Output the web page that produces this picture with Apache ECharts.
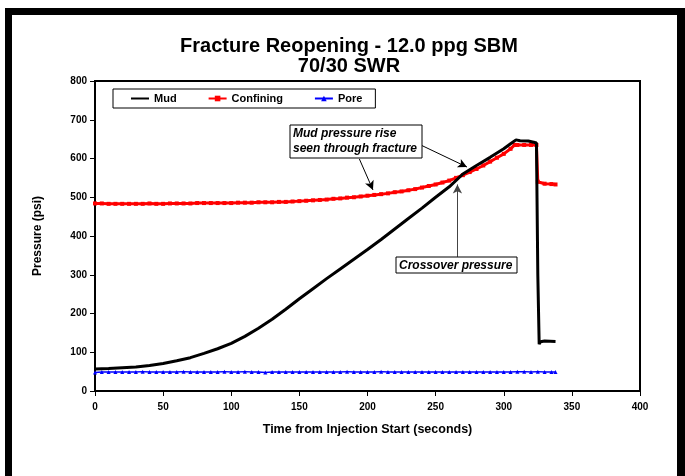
<!DOCTYPE html>
<html>
<head>
<meta charset="utf-8">
<script src="https://cdn.jsdelivr.net/npm/echarts@6/dist/echarts.min.js"></script>
<style>
html,body{margin:0;padding:0;background:#fff;}
#c{width:685px;height:476px;}
</style>
</head>
<body>
<div id="c"></div>
<script>
// ---- data ----
const mudTime = [0,10,20,30,40,50,60,70,80,90,100,110,120,130,140,150,160,170,180,190,200,210,220,230,240,250,260,270,280,290,300,305,309,312,318,322,324,325,326,327,330,338];
const mudPsi  = [57,58,60,62,66,71,78,86,97,109,123,141,162,185,211,238,264,290,315,340,365,391,418,445,472,500,527,560,582,603,625,638,648,646,645,642,640,300,121,127,129,128];

const confTime = [0,5,10,15,20,25,30,35,40,45,50,55,60,65,70,75,80,85,90,95,100,105,110,115,120,125,130,135,140,145,150,155,160,165,170,175,180,185,190,195,200,205,210,215,220,225,230,235,240,245,250,255,260,265,270,275,280,285,290,295,300,305,308,310,315,320,324,325,330,335,338];
const confPsi  = [484,484,483,483,483,483,483,483,484,483,483,484,484,484,484,485,485,485,485,485,485,486,486,486,487,487,487,488,488,489,490,491,492,493,494,496,497,499,500,502,504,506,508,510,513,515,518,521,525,529,533,538,543,550,557,565,573,582,592,602,612,625,635,635,635,635,635,540,535,534,533];

const poreTime = [0,5,10,15,20,25,30,35,40,45,50,55,60,65,70,75,80,85,90,95,100,105,110,115,120,125,130,135,140,145,150,155,160,165,170,175,180,185,190,195,200,205,210,215,220,225,230,235,240,245,250,255,260,265,270,275,280,285,290,295,300,305,310,315,320,325,330,335,338];
const porePsi  = [48,49,49,49,49,49,49,50,49,49,49,49,49,50,49,49,49,49,49,50,49,49,50,49,49,48,49,49,49,49,49,49,49,49,49,49,49,50,49,49,49,49,50,49,49,49,49,49,49,49,49,49,49,49,49,49,49,49,49,49,49,49,50,50,49,50,49,49,49];

const xTicks = [0,50,100,150,200,250,300,350,400];
const yTicks = [0,100,200,300,400,500,600,700,800];

const pair = (t, v) => t.map((x, i) => [x, v[i]]);
const font = "'Liberation Sans', Arial, sans-serif";

const chart = echarts.init(document.getElementById('c'));
chart.setOption({
  animation: false,
  backgroundColor: '#fff',
  title: {
    text: 'Fracture Reopening - 12.0 ppg SBM\n70/30 SWR',
    left: 349, top: 36, textAlign: 'center', padding: 0,
    textStyle: {fontFamily: font, fontWeight: 'bold', fontSize: 20, lineHeight: 20, color: '#000'}
  },
  legend: {
    left: 113, top: 89,
    padding: [4, 13, 4, 17],
    itemGap: 31, itemWidth: 18, itemHeight: 7,
    borderColor: '#000', borderWidth: 1,
    textStyle: {fontFamily: font, fontWeight: 'bold', fontSize: 11, color: '#000'},
    data: [{name: 'Mud', itemStyle: {opacity: 0}}, 'Confining', 'Pore']
  },
  grid: {left: 95, right: 45, top: 81, bottom: 85, show: true, borderColor: '#000', borderWidth: 2},
  xAxis: {
    type: 'value', min: 0, max: 400, interval: 50,
    name: 'Time from Injection Start (seconds)', nameLocation: 'middle', nameGap: 32,
    nameTextStyle: {fontFamily: font, fontWeight: 'bold', fontSize: 12.5, color: '#000'},
    axisLine: {lineStyle: {color: '#000', width: 2}},
    axisTick: {inside: false, length: 5, lineStyle: {color: '#000'}},
    axisLabel: {fontFamily: font, fontWeight: 'bold', fontSize: 10, color: '#000', margin: 11,
      formatter: v => xTicks.includes(v) ? String(v) : ''},
    splitLine: {show: false}
  },
  yAxis: {
    type: 'value', min: 0, max: 800, interval: 100,
    name: 'Pressure (psi)', nameLocation: 'middle', nameGap: 51, nameRotate: 90,
    nameTextStyle: {fontFamily: font, fontWeight: 'bold', fontSize: 12, color: '#000'},
    axisLine: {show: true, lineStyle: {color: '#000', width: 2}},
    axisTick: {show: true, inside: false, length: 5, lineStyle: {color: '#000'}},
    axisLabel: {fontFamily: font, fontWeight: 'bold', fontSize: 10, color: '#000', margin: 8,
      formatter: v => yTicks.includes(v) ? String(v) : ''},
    splitLine: {show: false}
  },
  series: [
    {
      name: 'Mud', type: 'line', data: pair(mudTime, mudPsi),
      showSymbol: false, symbol: 'none', z: 3,
      lineStyle: {color: '#000', width: 3}, itemStyle: {color: '#000'}
    },
    {
      name: 'Confining', type: 'line', data: pair(confTime, confPsi),
      symbol: 'rect', symbolSize: 4, showSymbol: true, z: 2,
      lineStyle: {color: '#ff0000', width: 3}, itemStyle: {color: '#ff0000'},
      markLine: {
        silent: true, symbol: ['none', 'arrow'], symbolSize: [7, 9],
        label: {show: false},
        lineStyle: {color: '#000', width: 1, type: 'solid'},
        data: [
          [{coord: [236, 640]}, {coord: [273, 578]}],
          [{coord: [194, 599]}, {coord: [204, 519]}],
          [{coord: [266, 346], lineStyle: {color: '#444'}}, {coord: [266, 533]}]
        ]
      }
    },
    {
      name: 'Pore', type: 'line', data: pair(poreTime, porePsi),
      symbol: 'triangle', symbolSize: 4, showSymbol: true, z: 1,
      lineStyle: {color: '#0000ff', width: 1.5}, itemStyle: {color: '#0000ff'}
    }
  ],
  graphic: [
    {type: 'rect', shape: {x: 5, y: 8, width: 680, height: 7}, style: {fill: '#000'}},
    {type: 'rect', shape: {x: 5, y: 8, width: 7, height: 468}, style: {fill: '#000'}},
    {type: 'rect', shape: {x: 677, y: 8, width: 8, height: 468}, style: {fill: '#000'}},
    {type: 'rect', shape: {x: 290, y: 125, width: 132, height: 33}, style: {fill: '#fff', stroke: '#000', lineWidth: 1}, z: 10},
    {type: 'text', x: 293, y: 126, z: 11, style: {text: 'Mud pressure rise\nseen through fracture', font: 'italic bold 12px ' + font, fill: '#000', lineHeight: 15}},
    {type: 'rect', shape: {x: 396, y: 257, width: 121, height: 16}, style: {fill: '#fff', stroke: '#000', lineWidth: 1}, z: 10},
    {type: 'text', x: 399, y: 258, z: 11, style: {text: 'Crossover pressure', font: 'italic bold 12px ' + font, fill: '#000', lineHeight: 15}}
  ]
});
</script>
</body>
</html>
